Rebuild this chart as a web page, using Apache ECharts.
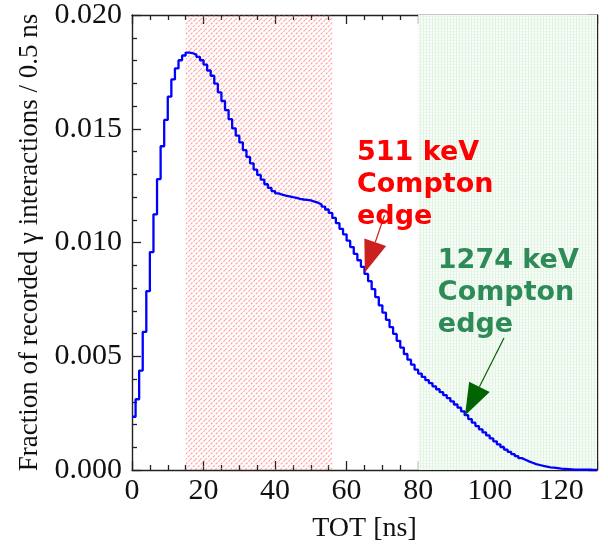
<!DOCTYPE html>
<html><head><meta charset="utf-8">
<script src="https://cdn.jsdelivr.net/npm/echarts@6/dist/echarts.min.js"></script>
<style>html,body{margin:0;padding:0;background:#fff}#c{width:608px;height:548px}</style>
</head><body><div id="c"></div>
<script>
// TOT bin edges (ns)
const totEdges = [0,1,2,3,4,5,6,7,8,9,10,11,12,13,14,15,16,17,18,19,20,21,22,23,24,25,26,27,28,29,30,31,32,33,34,35,36,37,38,39,40,41,42,43,44,45,46,47,48,49,50,51,52,53,54,55,56,57,58,59,60,61,62,63,64,65,66,67,68,69,70,71,72,73,74,75,76,77,78,79,80,81,82,83,84,85,86,87,88,89,90,91,92,93,94,95,96,97,98,99,100,101,102,103,104,105,106,107,108,109,110,111,112,113,114,115,116,117,118,119,120,121,122,123,124,125,126,127,128,129,130];
// Fraction of recorded gamma interactions per bin
const fraction = [
0.00234,0.00311,0.00437,0.00607,0.00786,0.00958,0.01124,0.01279,0.01423,0.01539,
0.01641,0.01717,0.01765,0.01801,0.01822,0.01835,0.01832,0.01826,0.01816,0.01801,
0.01782,0.01756,0.01733,0.01698,0.01660,0.01622,0.01582,0.01542,0.01502,0.01470,
0.01440,0.01406,0.01376,0.01348,0.01320,0.01297,0.01276,0.01256,0.01240,0.01226,
0.01216,0.01210,0.01206,0.01203,0.01199,0.01196,0.01192,0.01189,0.01187,0.01185,
0.01180,0.01175,0.01167,0.01158,0.01145,0.01130,0.01108,0.01085,0.01060,0.01036,
0.01008,0.00980,0.00950,0.00922,0.00893,0.00862,0.00830,0.00795,0.00760,0.00724,
0.00692,0.00660,0.00628,0.00598,0.00568,0.00538,0.00510,0.00485,0.00463,0.00441,
0.00424,0.00409,0.00395,0.00382,0.00368,0.00355,0.00342,0.00329,0.00316,0.00302,
0.00288,0.00274,0.00258,0.00241,0.00224,0.00208,0.00193,0.00179,0.00165,0.00152,
0.00139,0.00126,0.00113,0.00101,0.00090,0.00080,0.00070,0.00061,0.00052,0.00045,
0.00038,0.00032,0.00026,0.00022,0.00018,0.00015,0.00012,0.00010,0.00008,0.00006,
0.00005,0.00004,0.00003,0.00002,0.00002,0.00001,0.00001,0.00001,0.00000,0.00000];
// Shaded TOT windows
const redWindow = [15, 56];
const greenWindow = [80, 130];
// Annotation texts and arrow points (data coordinates)
const note511 = ['511 keV', 'Compton', 'edge'];
const note1274 = ['1274 keV', 'Compton', 'edge'];
const arrow511 = {tip: [65.1, 0.00868], tail: [70.6, 0.0112]};
const arrow1274 = {tip: [93.1, 0.00240], tail: [104.0, 0.0058]};
const textAnchor511 = [62.9, 0.01465];
const textAnchor1274 = [85.5, 0.00990];

const xAxisName = 'TOT [ns]';
const yAxisName = 'Fraction of recorded \u03b3 interactions / 0.5 ns';

function makePattern(kind) {
  const c = document.createElement('canvas');
  if (kind === 'red') {
    c.width = 10; c.height = 10;
    const g = c.getContext('2d');
    g.strokeStyle = 'rgba(255,100,100,0.6)';
    g.lineWidth = 1.1;
    g.setLineDash([2.6, 1.4]);
    for (let k = -10; k <= 20; k += 5) {
      g.beginPath(); g.moveTo(k, 10); g.lineTo(k + 10, 0); g.stroke();
    }
  } else {
    c.width = 3; c.height = 3;
    const g = c.getContext('2d');
    g.fillStyle = '#f8fcf8'; g.fillRect(0, 0, 3, 3);
    g.fillStyle = 'rgba(170,225,170,0.28)'; g.fillRect(0, 0, 1, 3);
    g.fillStyle = 'rgba(170,225,170,0.18)'; g.fillRect(1, 1, 2, 1);
  }
  return {image: c, repeat: 'repeat'};
}

const histData = totEdges.map((e, i) => [e, i < fraction.length ? fraction[i] : fraction[fraction.length - 1]]);

const chart = echarts.init(document.getElementById('c'), null, {renderer: 'canvas'});
const serif = 'Liberation Serif';
const tickStyle = {color: '#222', width: 1.3};
const axisCommon = {
  min: 0, max: 130, interval: 20,
  axisLine: {show: true, onZero: false, lineStyle: {color: '#222', width: 1.4}},
  axisTick: {show: true, inside: true, length: 9, lineStyle: tickStyle},
  minorTick: {show: true, splitNumber: 4, length: 5, lineStyle: tickStyle},
  splitLine: {show: false}
};
const yCommon = {
  min: 0, max: 0.02, interval: 0.005,
  axisLine: {show: true, onZero: false, lineStyle: {color: '#222', width: 1.4}},
  axisTick: {show: true, inside: true, length: 9, lineStyle: tickStyle},
  minorTick: {show: true, splitNumber: 5, length: 5, lineStyle: tickStyle},
  splitLine: {show: false}
};
chart.setOption({
  animation: false,
  backgroundColor: '#fff',
  grid: {left: 132, right: 11, top: 14, bottom: 76},
  xAxis: [
    Object.assign({type: 'value', position: 'bottom',
      name: xAxisName, nameLocation: 'middle', nameGap: 45,
      nameTextStyle: {fontFamily: serif, fontSize: 28, color: '#111'},
      axisLabel: {fontFamily: serif, fontSize: 30, color: '#111', margin: 6}}, axisCommon),
    Object.assign({type: 'value', position: 'top', axisLabel: {show: false}}, axisCommon)
  ],
  yAxis: [
    Object.assign({type: 'value', position: 'left',
      name: yAxisName, nameLocation: 'middle', nameGap: 74,
      nameTextStyle: {fontFamily: serif, fontSize: 27, color: '#111'},
      axisLabel: {fontFamily: serif, fontSize: 30, color: '#111', margin: 10,
        formatter: v => v.toFixed(3)}}, yCommon),
    Object.assign({type: 'value', position: 'right', axisLabel: {show: false}}, yCommon)
  ],
  series: [
    {
      type: 'line', data: [], z: 1, silent: true,
      markArea: {
        silent: true,
        data: [
          [{xAxis: redWindow[0], itemStyle: {color: makePattern('red')}}, {xAxis: redWindow[1]}],
          [{xAxis: greenWindow[0], itemStyle: {color: makePattern('green')}}, {xAxis: greenWindow[1]}]
        ]
      }
    },
    {
      type: 'line', data: histData, step: 'end', symbol: 'none', z: 5,
      lineStyle: {color: '#0000ff', width: 2.3}
    }
  ]
});

function px(p) { return chart.convertToPixel({xAxisIndex: 0, yAxisIndex: 0}, p); }
function arrowGraphic(a, lineColor, headColor) {
  const t = px(a.tip), s = px(a.tail);
  const dx = t[0] - s[0], dy = t[1] - s[1];
  const L = Math.hypot(dx, dy), ux = dx / L, uy = dy / L;
  const headLen = 32, headW = 11.5;
  const bx = t[0] - ux * headLen, by = t[1] - uy * headLen;
  return [
    {type: 'line', shape: {x1: s[0], y1: s[1], x2: bx, y2: by}, style: {stroke: lineColor, lineWidth: 1.2}, z: 20},
    {type: 'polygon', shape: {points: [t, [bx - uy * headW, by + ux * headW], [bx + uy * headW, by - ux * headW]]},
      style: {fill: headColor}, z: 20}
  ];
}
function textGraphic(lines, anchor, color) {
  const p = px(anchor);
  return {type: 'text', left: p[0], top: p[1], z: 21,
    style: {text: lines.join('\n'), fill: color, font: 'bold 27px "DejaVu Sans"', lineHeight: 32}};
}
chart.setOption({graphic: [
  textGraphic(note511, textAnchor511, '#ff0000'),
  textGraphic(note1274, textAnchor1274, '#2e8b57'),
  ...arrowGraphic(arrow511, '#cc1f1f', '#cc1f1f'),
  ...arrowGraphic(arrow1274, '#006400', '#006400')
]});
</script></body></html>
